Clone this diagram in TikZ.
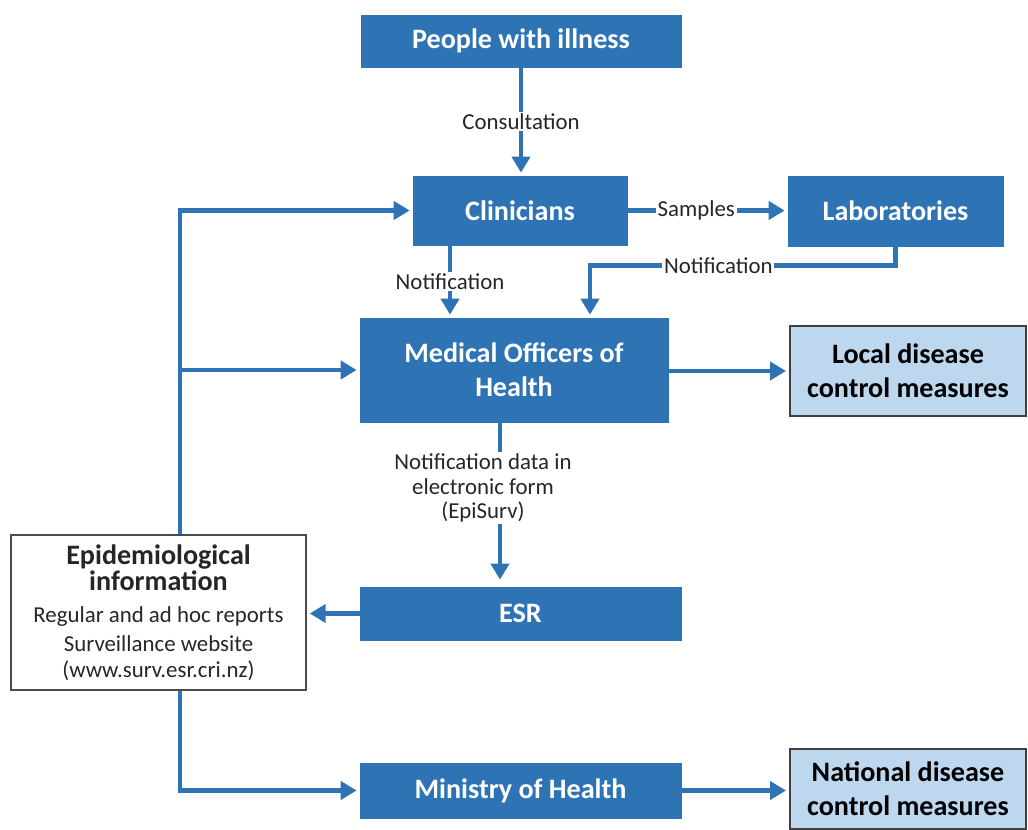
\documentclass[tikz,border=0pt]{standalone}
\usepackage{fontspec}
\setmainfont{Carlito}
\usetikzlibrary{arrows.meta}
\definecolor{boxblue}{HTML}{2E74B5}
\definecolor{paleblue}{HTML}{BDD7EE}
\tikzset{
	bluebox/.style={draw=boxblue, fill=boxblue, text=white, align=center, inner sep=0pt, font=\bfseries\fontsize{16}{19.3}\selectfont},
	palebox/.style={draw=black!75, line width=0.4mm, fill=paleblue, align=center, inner sep=0pt, font=\bfseries\fontsize{16}{19.3}\selectfont},
	flow/.style={draw=boxblue, line width=0.9mm, -{Triangle[width=0.36cm,length=0.32cm]}, shorten >=0.06cm},
	lbl/.style={fill=white, inner sep=1pt, text=black!85, align=center, font=\fontsize{13}{14}\selectfont}
}
\def\epihead{\fontsize{16}{14.5}\selectfont\bfseries}

\begin{document}
\begin{tikzpicture}[x=0.02cm, y=-0.02cm]
			%%%%% START %%%%%
			
			\useasboundingbox (0, 0) rectangle (1028, 830);
			
			\node[bluebox, minimum width=6.4cm, minimum height=1.04cm] (people) at (521, 41) {People with illness};
			\node[bluebox, minimum width=4.28cm, minimum height=1.38cm] (clin) at (520, 210.5) {Clinicians};
			\node[bluebox, minimum width=4.3cm, minimum height=1.4cm] (labs) at (895.5, 211) {Laboratories};
			\node[bluebox, minimum width=6.16cm, minimum height=2.08cm] (moh) at (514, 370) {Medical Officers of\\Health};
			\node[palebox, minimum width=4.72cm, minimum height=1.8cm] (local) at (908, 371) {Local disease\\control measures};
			\node[bluebox, minimum width=6.42cm, minimum height=1.06cm] (esr) at (520.5, 613.5) {ESR};
			\node[bluebox, minimum width=6.42cm, minimum height=1.1cm] (ministry) at (520.5, 790.5) {Ministry of Health};
			\node[palebox, minimum width=4.72cm, minimum height=1.62cm] (national) at (908, 789) {National disease\\control measures};
			
			\node[draw=black!70, line width=0.3mm, fill=white, align=center, inner sep=0pt, text=black!85,
				font=\fontsize{13}{14.5}\selectfont, minimum width=5.9cm, minimum height=3.1cm] (epi) at (158.5, 612.5)
				{\epihead Epidemiological\\\epihead information\\[4pt]
				Regular and ad hoc reports\\[2pt]
				Surveillance website\\(www.surv.esr.cri.nz)};
			
			\draw[flow] (people.south) -- node[lbl] {Consultation} (people.south |- clin.north);
			\draw[flow] (clin.east) -- node[lbl, pos=0.43] {Samples} (clin.east -| labs.west);
			\draw[flow] ([xshift=-1.4cm]clin.south) -- node[lbl] {Notification} ([xshift=-1.4cm]clin.south |- moh.north);
			\draw[flow] (labs.south) -- ++(0, 19) -| node[lbl, pos=0.29] {Notification} ([xshift=1.52cm]moh.north);
			\draw[flow] (moh.east |- local.west) -- (local.west);
			\draw[flow, shorten >=0.14cm] ([xshift=-0.28cm]moh.south) -- node[lbl, pos=0.4, xshift=-0.34cm] {Notification data in\\electronic form\\(EpiSurv)} ([xshift=-0.28cm]moh.south |- esr.north);
			\draw[flow] (esr.west) -- (esr.west -| epi.east);
			
			\draw[flow] ([xshift=0.43cm]epi.north) |- (clin.west);
			\draw[flow] ([xshift=0.43cm]epi.north |- moh.west) -- (moh.west);
			\draw[flow] ([xshift=0.43cm]epi.south) |- (ministry.west);
			\draw[flow] (ministry.east) -- (ministry.east -| national.west);
			
			%%%%% END %%%%%
		\end{tikzpicture}
\end{document}
